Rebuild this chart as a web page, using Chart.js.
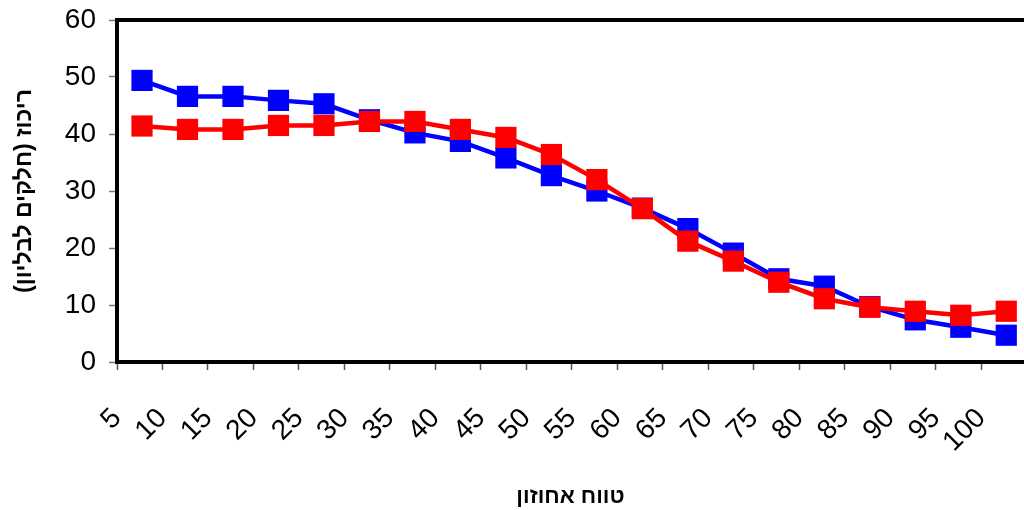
<!DOCTYPE html>
<html>
<head>
<meta charset="utf-8">
<script src="https://cdn.jsdelivr.net/npm/chart.js@4.4.1/dist/chart.umd.min.js"></script>
<style>
  html, body { margin: 0; padding: 0; background: #fff; }
  #wrap { width: 1024px; height: 510px; }
</style>
</head>
<body>
<div id="wrap"><canvas id="c" width="1024" height="510"></canvas></div>
<script>
// ---- data ----
const categories = ['5','10','15','20','25','30','35','40','45','50','55','60','65','70','75','80','85','90','95','100'];
const blueValues = [49.4, 46.6, 46.6, 45.9, 45.3, 42.5, 40.2, 38.7, 35.8, 32.7, 30.0, 27.0, 23.4, 19.1, 14.6, 13.3, 9.7, 7.4, 6.1, 4.7];
const redValues  = [41.4, 40.8, 40.8, 41.5, 41.5, 42.2, 42.2, 40.8, 39.4, 36.4, 32.0, 26.9, 21.2, 17.7, 14.0, 11.1, 9.6, 8.9, 8.2, 8.9];
const yTicks = [0, 10, 20, 30, 40, 50, 60];
const xTitle = 'טווח אחוזון';
const yTitle = 'ריכוז (חלקים לבליון)\u200F';

// ---- layout constants ----
const POINT_SHIFT = 0.55;   // points sit inside each category band
const X_MAX = 19.94;        // the last band is cut by the page edge
const FONT = "'Liberation Sans', Arial, 'DejaVu Sans', sans-serif";

const toPoints = vals => vals.map((v, i) => ({ x: i + POINT_SHIFT, y: v }));

const topBorder = {
  id: 'topBorder',
  afterDatasetsDraw(chart) {
    const { ctx, chartArea: a } = chart;
    ctx.save();
    ctx.strokeStyle = '#000';
    ctx.lineWidth = 4;
    ctx.beginPath();
    ctx.moveTo(a.left - 2, a.top);
    ctx.lineTo(a.right, a.top);
    ctx.stroke();
    ctx.restore();
  }
};

new Chart(document.getElementById('c'), {
  type: 'line',
  data: {
    datasets: [
      {
        label: 'red',
        data: toPoints(redValues),
        borderColor: '#ff0000',
        backgroundColor: '#ff0000',
        borderWidth: 4.5,
        pointStyle: 'rect',
        pointRadius: 15,
        pointHoverRadius: 15,
        pointBorderWidth: 0,
        tension: 0
      },
      {
        label: 'blue',
        data: toPoints(blueValues),
        borderColor: '#0000ff',
        backgroundColor: '#0000ff',
        borderWidth: 4.5,
        pointStyle: 'rect',
        pointRadius: 15,
        pointHoverRadius: 15,
        pointBorderWidth: 0,
        tension: 0
      }
    ]
  },
  options: {
    responsive: false,
    animation: false,
    devicePixelRatio: 1,
    layout: { autoPadding: false, padding: { top: 20, left: 0, right: 0, bottom: 0 } },
    plugins: { legend: { display: false }, tooltip: { enabled: false } },
    scales: {
      x: {
        type: 'linear',
        min: 0,
        max: X_MAX,
        afterBuildTicks: s => { s.ticks = categories.map((_, i) => ({ value: i })); },
        afterFit: s => { s.height = 148; s.paddingLeft = 0; s.paddingRight = 0; },
        ticks: {
          autoSkip: false,
          minRotation: 45,
          maxRotation: 45,
          padding: 32,
          color: '#000',
          font: { family: FONT, size: 28 },
          callback: v => categories[v] ?? ''
        },
        grid: { drawOnChartArea: false, drawTicks: true, tickLength: 8, tickColor: '#555', tickWidth: 1.5 },
        border: { display: true, color: '#000', width: 4 },
        title: {
          display: true,
          text: xTitle,
          color: '#000',
          font: { family: FONT, size: 22, weight: 'bold' },
          padding: { top: 0, bottom: 0 }
        }
      },
      y: {
        min: 0,
        max: 60,
        afterBuildTicks: s => { s.ticks = yTicks.map(v => ({ value: v })); },
        afterFit: s => { s.width = 117; s.paddingTop = 0; s.paddingBottom = 0; },
        ticks: {
          padding: 13,
          color: '#000',
          font: { family: FONT, size: 28 }
        },
        grid: { drawOnChartArea: false, drawTicks: true, tickLength: 8, tickColor: '#777', tickWidth: 1.5 },
        border: { display: true, color: '#000', width: 4 },
        title: {
          display: true,
          text: yTitle,
          color: '#000',
          font: { family: FONT, size: 23, weight: 'bold' },
          padding: { top: 11, bottom: 0 }
        }
      }
    }
  },
  plugins: [topBorder]
});
</script>
</body>
</html>
